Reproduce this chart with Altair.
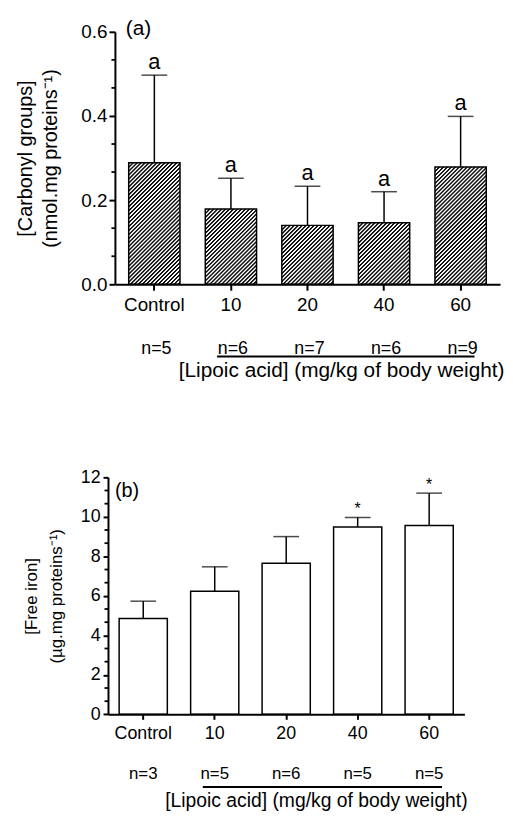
import altair as alt
import pandas as pd

# ---------------- data ----------------
categories = ["Control", "10", "20", "40", "60"]

carbonyl_mean = [0.289, 0.179, 0.140, 0.146, 0.279]
carbonyl_sem = [0.208, 0.073, 0.093, 0.074, 0.120]
carbonyl_letters = ["a", "a", "a", "a", "a"]
carbonyl_n = ["n=5", "n=6", "n=7", "n=6", "n=9"]
carbonyl_ticks = [0.0, 0.2, 0.4, 0.6]

iron_mean = [4.85, 6.23, 7.65, 9.49, 9.56]
iron_sem = [0.88, 1.24, 1.35, 0.48, 1.64]
iron_marks = ["", "", "", "*", "*"]
iron_n = ["n=3", "n=5", "n=6", "n=5", "n=5"]
iron_ticks = [0, 2, 4, 6, 8, 10, 12]

lipoic_label = "[Lipoic acid] (mg/kg of body weight)"
title_a = ["[Carbonyl groups]", "(nmol.mg proteins\u207b\u00b9)"]
title_b = ["[Free iron]", "(\u00b5g.mg proteins\u207b\u00b9)"]

FONT = "Liberation Sans"


def thirds(major):
    out = []
    for lo, hi in zip(major[:-1], major[1:]):
        s = (hi - lo) / 3.0
        out += [lo + s, lo + 2 * s]
    return out


def hatch(W, H, period=4.0, color="#111111"):
    # diagonal "///" hatch as a soft-edged repeating linear gradient
    L = W + H
    k = L / (W * W + H * H)
    prof = [(0.0, color), (0.30, color), (0.55, "#ffffff"), (0.80, "#ffffff"), (1.0, color)]
    stops = []
    j = 0
    while j * period < L:
        for f, col in prof[:-1]:
            off = (j + f) * period / L
            if off <= 1.0:
                stops.append({"offset": off, "color": col})
        j += 1
    return {"gradient": "linear", "x1": 0, "y1": 0, "x2": k * W, "y2": k * H,
            "stops": stops}


one = pd.DataFrame({"k": [0]})

# ---------------- panel (a) ----------------
WA, HA = 389, 255
PI_A, PO_A = 0.33, 0.18
YMAX_A = 0.6
step_a = WA / (len(categories) - PI_A + 2 * PO_A)
bw_a = step_a * (1 - PI_A)
centers_a = [PO_A * step_a + bw_a / 2 + i * step_a for i in range(len(categories))]

dfa = pd.DataFrame({"cat": categories, "mean": carbonyl_mean, "sem": carbonyl_sem,
                    "letter": carbonyl_letters, "n": carbonyl_n})
dfa["top"] = dfa["mean"] + dfa["sem"]

sx_a = alt.Scale(domain=categories, paddingInner=PI_A, paddingOuter=PO_A)
sy_a = alt.Scale(domain=[0, YMAX_A], nice=False, zero=True)
ax_xa = alt.Axis(title=None, labelAngle=0, labelFontSize=19, tickSize=6,
                 labelPadding=5, domainWidth=2, tickWidth=2, zindex=1)
ax_ya = alt.Axis(values=carbonyl_ticks, format=".1f", title=title_a,
                 labelFontSize=19, tickSize=6, labelPadding=2, zindex=1,
                 minExtent=35, maxExtent=35,
                 domainWidth=2, tickWidth=2, titleFontSize=20,
                 titleLineHeight=25, titlePadding=20)


def XA():
    return alt.X("cat:N", sort=categories, scale=sx_a, axis=ax_xa)


def YA(field):
    return alt.Y(field, scale=sy_a, axis=ax_ya)


base_a = alt.Chart(dfa)
layers_a = []
for c, m in zip(categories, carbonyl_mean):
    hpx = m / YMAX_A * HA
    layers_a.append(
        base_a.transform_filter(alt.datum.cat == c)
        .mark_bar(fill=hatch(bw_a, hpx), stroke="black", strokeWidth=1.5)
        .encode(x=XA(), y=YA("mean:Q"))
    )

err_a = base_a.mark_rule(color="black", strokeWidth=1.5).encode(
    x=XA(), y=YA("mean:Q"), y2="top:Q")
cap_a = base_a.mark_tick(color="black", thickness=1.5, size=26, orient="horizontal").encode(
    x=XA(), y=YA("top:Q"))
let_a = base_a.mark_text(fontSize=22, baseline="alphabetic", dy=-6, color="black").encode(
    x=XA(), y=YA("top:Q"), text="letter:N")
n_a = base_a.mark_text(fontSize=18, baseline="alphabetic", dx=2, color="black").encode(
    x=XA(), y=alt.value(HA + 70), text="n:N")

line_a = alt.Chart(one).mark_rule(color="black", strokeWidth=2).encode(
    x=alt.value(centers_a[1] - 14), x2=alt.value(centers_a[4] + 14), y=alt.value(HA + 73))
lip_a = alt.Chart(one).mark_text(text=lipoic_label, fontSize=21, align="center",
                                 baseline="alphabetic", color="black").encode(
    x=alt.value(229), y=alt.value(HA + 94))
lab_a = alt.Chart(one).mark_text(text="(a)", fontSize=21, align="left",
                                 baseline="middle", color="black").encode(
    x=alt.value(11), y=alt.value(-3))
minor_a = alt.Chart(pd.DataFrame({"v": thirds(carbonyl_ticks)})).mark_rule(
    color="black", strokeWidth=1.8).encode(
    y=YA("v:Q"), x=alt.value(-3.5), x2=alt.value(0))

panel_a = alt.layer(*layers_a, err_a, cap_a, let_a, n_a, line_a, lip_a, lab_a, minor_a).properties(
    width=WA, height=HA)

# ---------------- panel (b) ----------------
# panel (b)'s axis sits 7px left of panel (a)'s: plot area aligned with (a),
# scale range and y-axis shifted left by SHIFT.
SHIFT = 7
WB_FULL, HB = 360, 239.4
WB = WB_FULL - SHIFT
PI_B, PO_B = 0.326, 0.156
YMAX_B = 12
step_b = WB_FULL / (len(categories) - PI_B + 2 * PO_B)
bw_b = step_b * (1 - PI_B)
centers_b = [-SHIFT + PO_B * step_b + bw_b / 2 + i * step_b for i in range(len(categories))]

dfb = pd.DataFrame({"cat": categories, "mean": iron_mean, "sem": iron_sem,
                    "mark": iron_marks, "n": iron_n})
dfb["top"] = dfb["mean"] + dfb["sem"]

sx_b = alt.Scale(domain=categories, paddingInner=PI_B, paddingOuter=PO_B,
                 range=[-SHIFT, WB])
sy_b = alt.Scale(domain=[0, YMAX_B], nice=False, zero=True)
ax_xb = alt.Axis(title=None, labelAngle=0, labelFontSize=18, tickSize=5,
                 labelPadding=5, zindex=1, domainWidth=2, tickWidth=2)
ax_yb = alt.Axis(values=iron_ticks, format="d", title=title_b,
                 labelFontSize=18, tickSize=5, labelPadding=3, zindex=1, offset=SHIFT,
                 minExtent=28, maxExtent=28,
                 domainWidth=2, tickWidth=2, titleFontSize=17,
                 titleLineHeight=25, titlePadding=15)


def XB():
    return alt.X("cat:N", sort=categories, scale=sx_b, axis=ax_xb)


def YB(field):
    return alt.Y(field, scale=sy_b, axis=ax_yb)


base_b = alt.Chart(dfb)
bars_b = base_b.mark_bar(fill="white", stroke="black", strokeWidth=1.5).encode(
    x=XB(), y=YB("mean:Q"))
err_b = base_b.mark_rule(color="black", strokeWidth=1.5).encode(
    x=XB(), y=YB("mean:Q"), y2="top:Q")
cap_b = base_b.mark_tick(color="black", thickness=1.5, size=26, orient="horizontal").encode(
    x=XB(), y=YB("top:Q"))
sig_b = base_b.mark_text(fontSize=16, baseline="alphabetic", dy=-3, color="black").encode(
    x=XB(), y=YB("top:Q"), text="mark:N")
n_b = base_b.mark_text(fontSize=17, baseline="alphabetic", color="black").encode(
    x=XB(), y=alt.value(HB + 65), text="n:N")
line_b = alt.Chart(one).mark_rule(color="black", strokeWidth=2).encode(
    x=alt.value(centers_b[1] - 12), x2=alt.value(centers_b[4] + 13), y=alt.value(HB + 73.3))
lip_b = alt.Chart(one).mark_text(text=lipoic_label, fontSize=19.5, align="center",
                                 baseline="alphabetic", color="black").encode(
    x=alt.value(203.5), y=alt.value(HB + 94))
lab_b = alt.Chart(one).mark_text(text="(b)", fontSize=20, align="left",
                                 baseline="middle", color="black").encode(
    x=alt.value(0), y=alt.value(13.7))
minor_b = alt.Chart(pd.DataFrame({"v": thirds(iron_ticks)})).mark_rule(
    color="black", strokeWidth=1.8).encode(
    y=YB("v:Q"), x=alt.value(-SHIFT - 3.5), x2=alt.value(-SHIFT))

panel_b = alt.layer(bars_b, err_b, cap_b, sig_b, n_b, line_b, lip_b, lab_b, minor_b).properties(
    width=WB, height=HB)

chart = alt.vconcat(panel_a, panel_b, spacing=88).properties(
    padding={"left": 8, "top": 6, "right": 0, "bottom": 0}
).configure_view(stroke=None).configure_axis(
    labelFont=FONT, titleFont=FONT, labelColor="black", titleColor="black",
    domainColor="black", tickColor="black", grid=False, titleFontWeight="normal"
).configure_text(font=FONT)

chart.save("out.html", embed_options={"renderer": "svg", "actions": False})
